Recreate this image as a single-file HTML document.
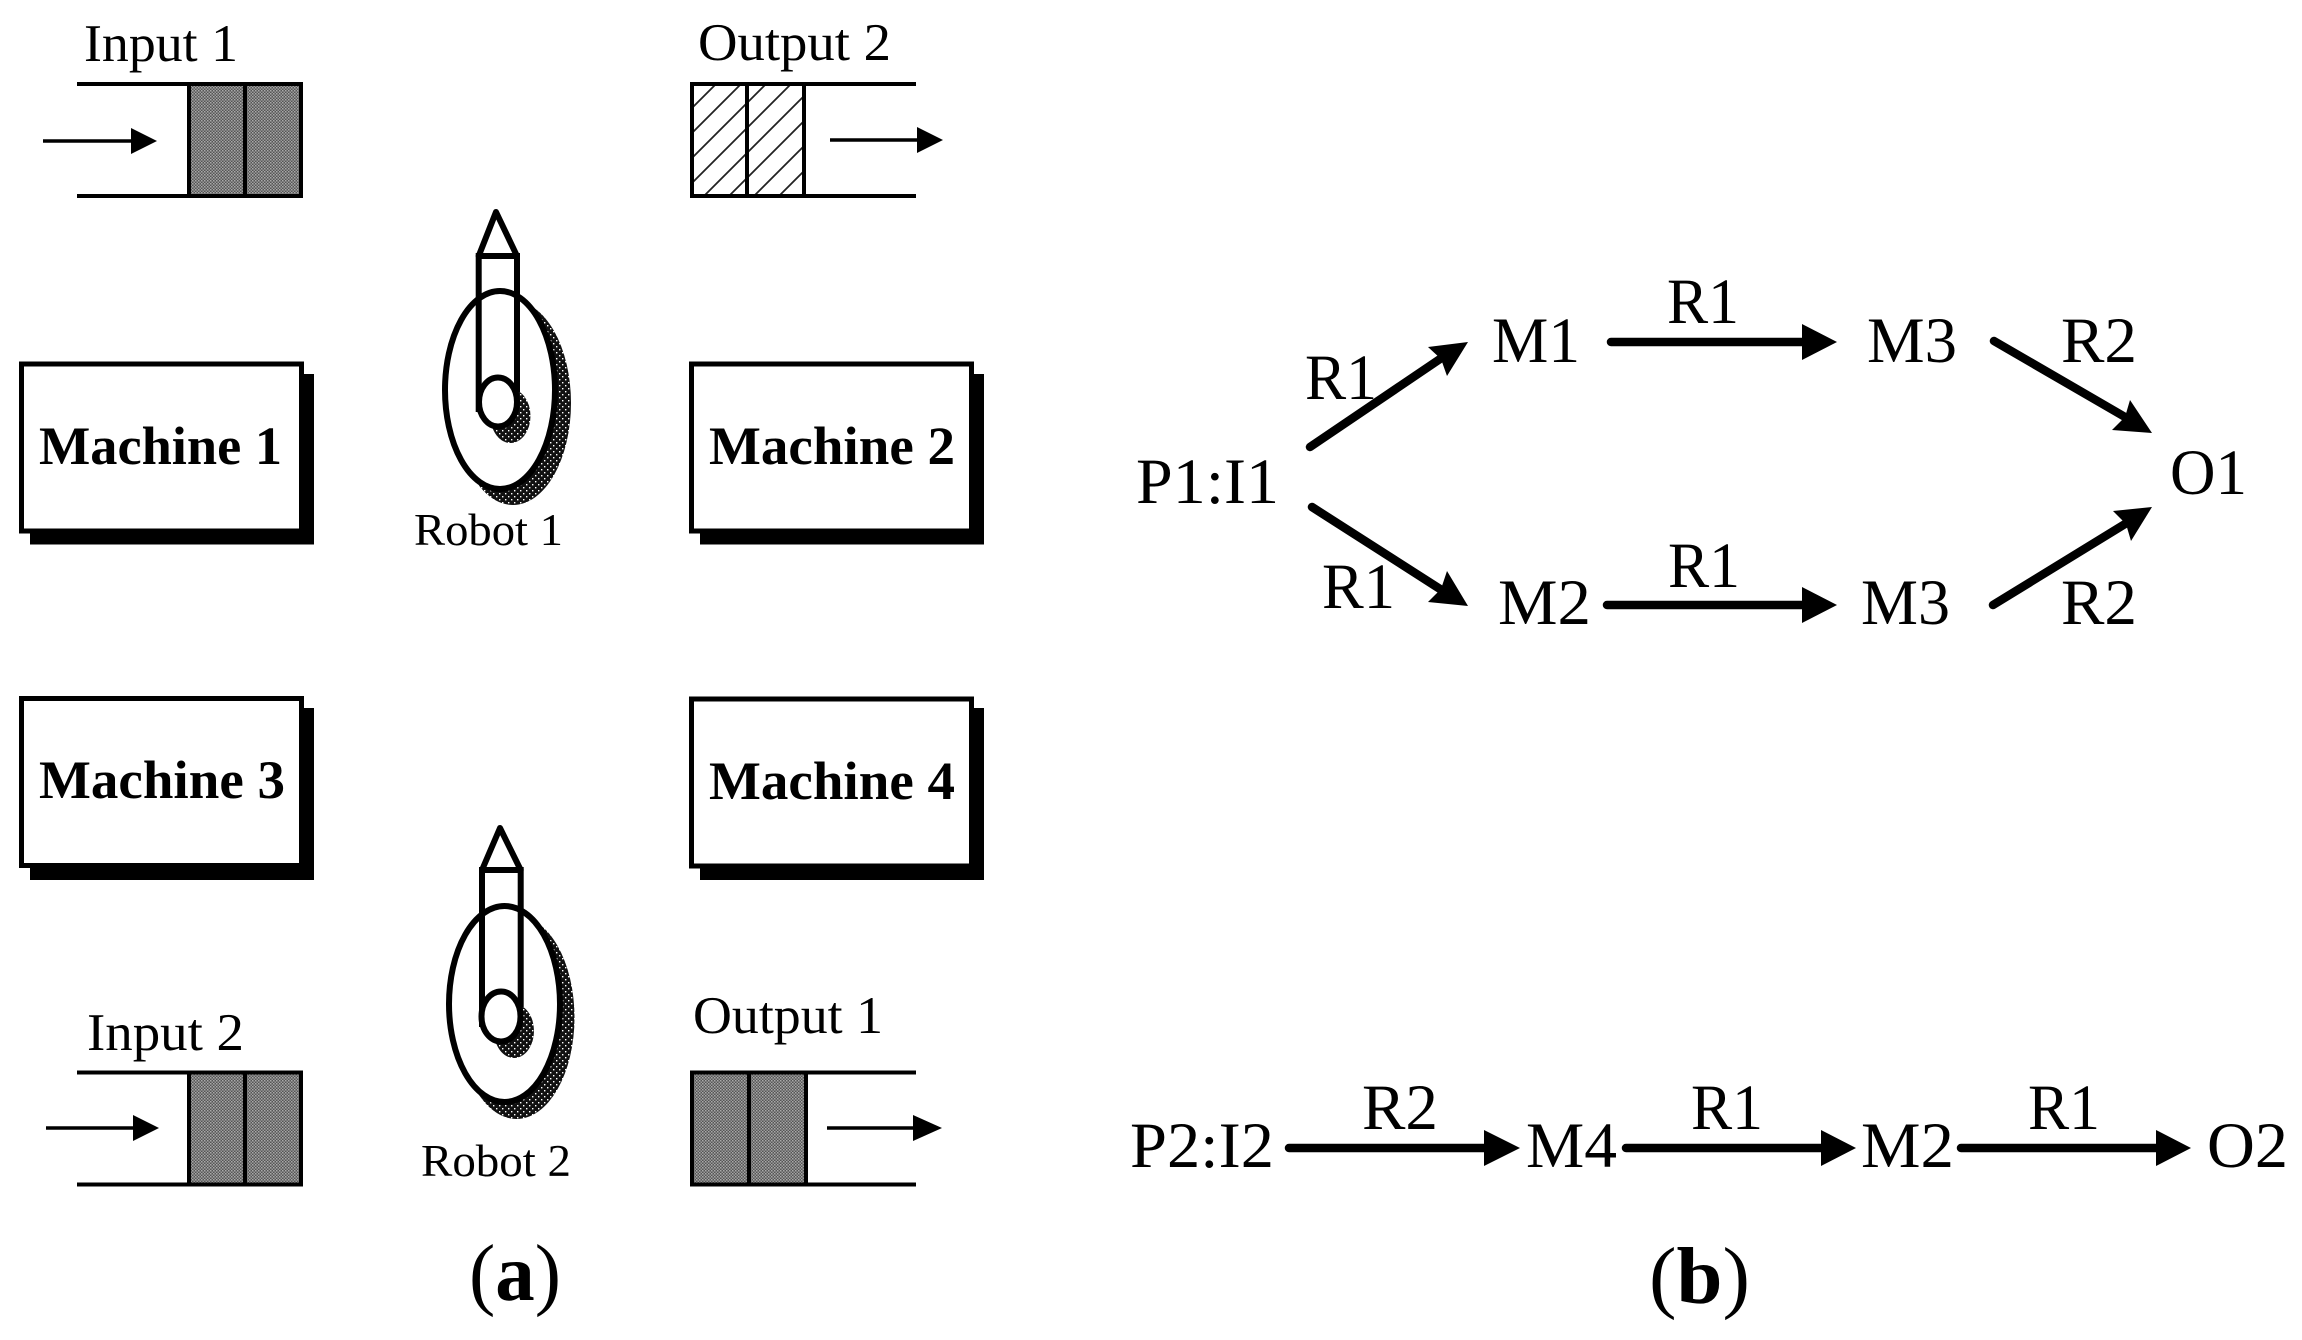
<!DOCTYPE html>
<html><head><meta charset="utf-8"><style>
html,body{margin:0;padding:0;background:#fff;width:2302px;height:1340px;overflow:hidden}
svg{display:block}
text{font-family:"Liberation Serif",serif;fill:#000}
.l{font-size:53px}.m{font-size:54px;font-weight:bold}.r{font-size:45px}.d{font-size:65px}
.a{stroke:#000;stroke-width:8.5;stroke-linecap:round;fill:none}
.s{stroke:#000;stroke-width:4;fill:none}
.k{stroke:#000;stroke-width:5;fill:#fff}
.o{fill:#fff;stroke:#000;stroke-width:6}
</style></head><body>
<svg width="2302" height="1340" viewBox="0 0 2302 1340" xmlns="http://www.w3.org/2000/svg">
<defs>
<pattern id="g" width="3" height="3" patternUnits="userSpaceOnUse"><rect width="3" height="3" fill="#555"/><rect width="1.5" height="1.5" fill="#aaa"/><rect x="1.5" y="1.5" width="1.5" height="1.5" fill="#999"/></pattern>
<pattern id="q" width="6" height="6" patternUnits="userSpaceOnUse"><rect width="6" height="6" fill="#111"/><rect x="1" y="1" width="1.4" height="1.4" fill="#fff"/><rect x="4" y="4" width="1.4" height="1.4" fill="#fff"/></pattern>
<pattern id="h" width="25" height="25" patternUnits="userSpaceOnUse"><path d="M-5 30L30 -5M-5 5L5 -5M20 30L30 20" stroke="#222" stroke-width="1.8"/></pattern>
</defs>
<rect width="2302" height="1340" fill="#fff"/>

<!-- Input 1 -->
<text class="l" x="84" y="61" textLength="154" lengthAdjust="spacingAndGlyphs">Input 1</text>
<rect x="189" y="84" width="112" height="112" fill="url(#g)"/>
<path class="s" d="M77 84H301V196H77M189 84V196M245 84V196"/>
<path d="M43 141H135" stroke="#000" stroke-width="3.5"/><polygon points="131,128 157,141 131,154"/>

<!-- Output 2 -->
<text class="l" x="698" y="60" textLength="193" lengthAdjust="spacingAndGlyphs">Output 2</text>
<rect x="692" y="84" width="112" height="112" fill="url(#h)"/>
<path class="s" d="M916 84H692V196H916M747 84V196M804 84V196"/>
<path d="M830 140H920" stroke="#000" stroke-width="3.5"/><polygon points="917,127 943,140 917,153"/>

<!-- Machines -->
<rect x="30" y="374" width="284" height="170.5"/><rect class="k" x="21.5" y="364" width="280" height="167"/>
<text class="m" x="39" y="464" textLength="243" lengthAdjust="spacingAndGlyphs">Machine 1</text>
<rect x="700" y="374" width="284" height="170.5"/><rect class="k" x="691.5" y="364" width="280" height="167"/>
<text class="m" x="709" y="464" textLength="246" lengthAdjust="spacingAndGlyphs">Machine 2</text>
<rect x="30" y="708" width="284" height="172"/><rect class="k" x="21.5" y="698.5" width="280" height="167"/>
<text class="m" x="39" y="798" textLength="246" lengthAdjust="spacingAndGlyphs">Machine 3</text>
<rect x="700" y="708" width="284" height="172"/><rect class="k" x="691.5" y="699" width="280" height="167"/>
<text class="m" x="709" y="799" textLength="246" lengthAdjust="spacingAndGlyphs">Machine 4</text>

<!-- Robot 1 -->
<ellipse cx="513" cy="403" rx="58" ry="102" fill="url(#q)"/>
<ellipse class="o" cx="500" cy="390" rx="55" ry="99"/>
<ellipse cx="510.5" cy="416" rx="20" ry="27" fill="url(#q)"/>
<path d="M478.7 412V256H517V392" fill="none" stroke="#000" stroke-width="6"/>
<polygon points="496,212 478.7,256 517,256" fill="#fff" stroke="#000" stroke-width="6" stroke-linejoin="round"/>
<ellipse class="o" cx="498" cy="402" rx="19" ry="24.5"/>
<text class="r" x="414" y="545" textLength="149" lengthAdjust="spacingAndGlyphs">Robot 1</text>

<!-- Robot 2 -->
<ellipse cx="516.5" cy="1017.5" rx="58" ry="101.5" fill="url(#q)"/>
<ellipse class="o" cx="504.5" cy="1004" rx="55.5" ry="98"/>
<ellipse cx="514" cy="1031" rx="20" ry="27" fill="url(#q)"/>
<path d="M482 1027V870H520.7V1007" fill="none" stroke="#000" stroke-width="6"/>
<polygon points="500,828 482,870 520.7,870" fill="#fff" stroke="#000" stroke-width="6" stroke-linejoin="round"/>
<ellipse class="o" cx="501" cy="1016.5" rx="19.5" ry="25"/>
<text class="r" x="421" y="1176" textLength="150" lengthAdjust="spacingAndGlyphs">Robot 2</text>

<!-- Input 2 -->
<text class="l" x="87" y="1050" textLength="157" lengthAdjust="spacingAndGlyphs">Input 2</text>
<rect x="189" y="1072.5" width="112" height="112" fill="url(#g)"/>
<path class="s" d="M77 1072.5H301V1184.5H77M189 1072.5V1184.5M245 1072.5V1184.5"/>
<path d="M46 1128H137" stroke="#000" stroke-width="3.5"/><polygon points="133,1115 159,1128 133,1141"/>

<!-- Output 1 -->
<text class="l" x="693" y="1033" textLength="190" lengthAdjust="spacingAndGlyphs">Output 1</text>
<rect x="692" y="1072.5" width="113" height="112" fill="url(#g)"/>
<path class="s" d="M919 1072.5H692V1184.5H919" style="display:none"/>
<path class="s" d="M916 1072.5H692V1184.5H916M749 1072.5V1184.5M806 1072.5V1184.5"/>
<path d="M827 1128H916" stroke="#000" stroke-width="3.5"/><polygon points="913,1115 942,1128 913,1141"/>

<!-- captions -->
<text x="469" y="1300" font-size="80" textLength="92" lengthAdjust="spacingAndGlyphs">(<tspan font-weight="bold">a</tspan>)</text>
<text x="1649" y="1303" font-size="80" textLength="101" lengthAdjust="spacingAndGlyphs">(<tspan font-weight="bold">b</tspan>)</text>

<!-- P1 graph -->
<text class="d" x="1136" y="503" textLength="143" lengthAdjust="spacingAndGlyphs">P1:I1</text>
<text class="d" x="1492" y="362" textLength="88" lengthAdjust="spacingAndGlyphs">M1</text>
<text class="d" x="1867" y="362" textLength="90" lengthAdjust="spacingAndGlyphs">M3</text>
<text class="d" x="1498" y="624" textLength="93" lengthAdjust="spacingAndGlyphs">M2</text>
<text class="d" x="1861" y="624" textLength="89" lengthAdjust="spacingAndGlyphs">M3</text>
<text class="d" x="2170" y="494" textLength="77" lengthAdjust="spacingAndGlyphs">O1</text>
<text class="d" x="1305" y="399" textLength="72" lengthAdjust="spacingAndGlyphs">R1</text>
<text class="d" x="1322" y="608" textLength="73" lengthAdjust="spacingAndGlyphs">R1</text>
<text class="d" x="1667" y="323" textLength="72" lengthAdjust="spacingAndGlyphs">R1</text>
<text class="d" x="1668" y="587" textLength="72" lengthAdjust="spacingAndGlyphs">R1</text>
<text class="d" x="2061" y="362" textLength="76" lengthAdjust="spacingAndGlyphs">R2</text>
<text class="d" x="2061" y="624" textLength="76" lengthAdjust="spacingAndGlyphs">R2</text>

<path class="a" d="M1310 447L1440 359"/><polygon points="1468,342 1447,376 1441,359 1428,347"/>
<path class="a" d="M1312 507L1440 589"/><polygon points="1468,606 1428,602 1441,589 1447,571"/>
<path class="a" d="M1611 342H1806"/><polygon points="1802,324 1837,342 1802,360"/>
<path class="a" d="M1607 605H1806"/><polygon points="1802,587 1837,605 1802,623"/>
<path class="a" d="M1994 341L2125 417"/><polygon points="2152,433 2112,430 2125,417 2130,400"/>
<path class="a" d="M1993 605L2125 524"/><polygon points="2152,507 2131,541 2126,524 2113,511"/>

<!-- P2 graph -->
<text class="d" x="1130" y="1167" textLength="144" lengthAdjust="spacingAndGlyphs">P2:I2</text>
<text class="d" x="1526" y="1167" textLength="91" lengthAdjust="spacingAndGlyphs">M4</text>
<text class="d" x="1861" y="1167" textLength="93" lengthAdjust="spacingAndGlyphs">M2</text>
<text class="d" x="2207" y="1167" textLength="81" lengthAdjust="spacingAndGlyphs">O2</text>
<text class="d" x="1362" y="1129" textLength="76" lengthAdjust="spacingAndGlyphs">R2</text>
<text class="d" x="1691" y="1129" textLength="72" lengthAdjust="spacingAndGlyphs">R1</text>
<text class="d" x="2028" y="1129" textLength="72" lengthAdjust="spacingAndGlyphs">R1</text>
<path class="a" d="M1289 1148H1488"/><polygon points="1484,1130 1520,1148 1484,1166"/>
<path class="a" d="M1626 1148H1825"/><polygon points="1821,1130 1856,1148 1821,1166"/>
<path class="a" d="M1961 1148H2160"/><polygon points="2156,1130 2191,1148 2156,1166"/>
</svg>
</body></html>
